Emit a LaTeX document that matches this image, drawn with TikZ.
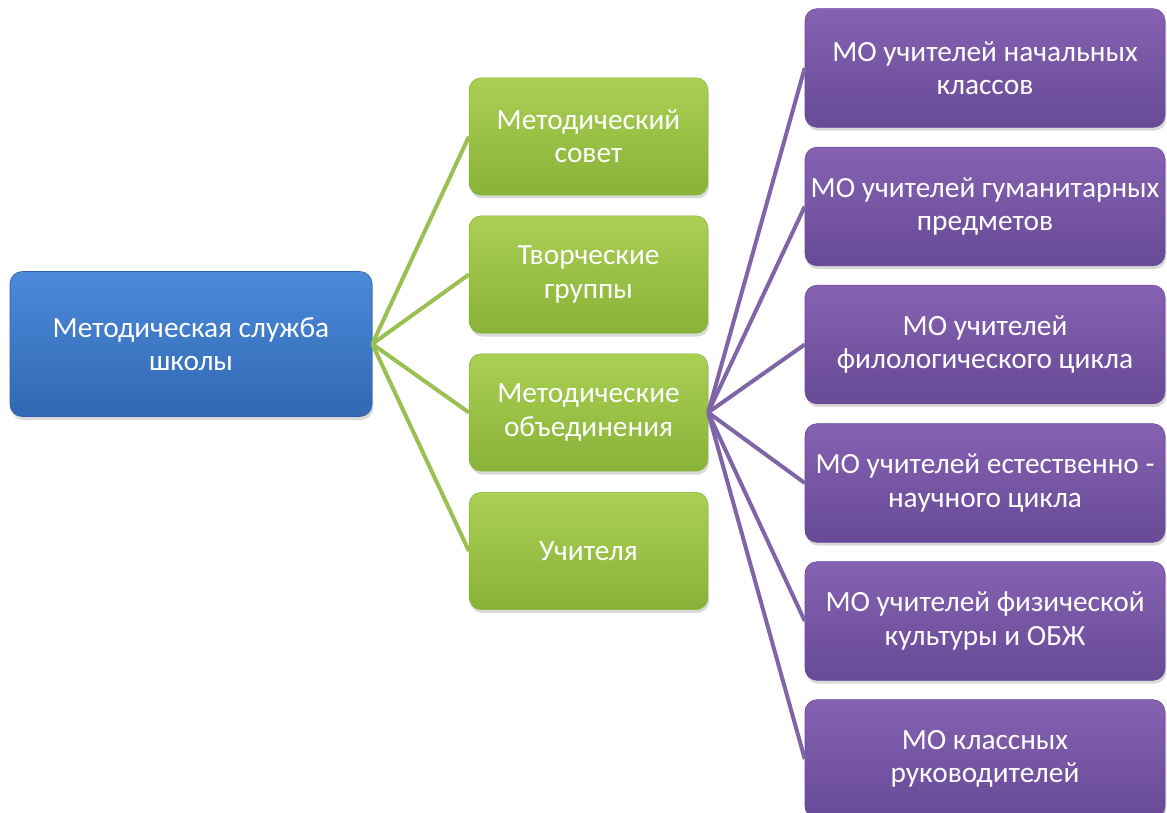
\documentclass[tikz,border=0pt]{standalone}
\usepackage{fontspec}
\setmainfont{Carlito}
\usepackage{tikz}
\usetikzlibrary{shadows}
\usepackage{xcolor}
\definecolor{msbluetop}{RGB}{74,138,216}
\definecolor{msbluebot}{RGB}{50,104,180}
\definecolor{msblueline}{RGB}{48,96,165}
\definecolor{msgreentop}{RGB}{170,208,84}
\definecolor{msgreenbot}{RGB}{136,178,56}
\definecolor{msgreenline}{RGB}{155,192,82}
\definecolor{mspurpletop}{RGB}{133,98,178}
\definecolor{mspurplebot}{RGB}{104,74,150}
\definecolor{mspurpleline}{RGB}{128,100,168}
\tikzstyle{link} = [line width=3pt]
\tikzstyle{schoolbox} = [rectangle, rounded corners=9pt, minimum width=271.5pt, minimum height=108.75pt, align=center, text=white, top color=msbluetop, bottom color=msbluebot, draw=msblueline, font=\fontsize{22}{25}\selectfont, drop shadow={opacity=0.3, shadow xshift=1pt, shadow yshift=-2.5pt}]
\tikzstyle{unitbox} = [rectangle, rounded corners=9pt, minimum width=179pt, minimum height=88pt, align=center, text=white, top color=msgreentop, bottom color=msgreenbot, draw=msgreenbot, font=\fontsize{22}{25}\selectfont, drop shadow={opacity=0.3, shadow xshift=1pt, shadow yshift=-2.5pt}]
\tikzstyle{mobox} = [rectangle, rounded corners=9pt, minimum width=270pt, minimum height=89pt, align=center, text=white, top color=mspurpletop, bottom color=mspurplebot, draw=mspurplebot, font=\fontsize{22}{25}\selectfont, drop shadow={opacity=0.3, shadow xshift=1pt, shadow yshift=-2.5pt}]

\begin{document}
\begin{tikzpicture}[x=0.75pt, y=-0.75pt]
\clip (0,0) rectangle (1167,813);

% Root
\node[schoolbox] (school) at (191,344) {Методическая служба\\школы};

% Level 1
\node[unitbox] (council) at (588.5,136.5) {Методический\\совет};
\node[unitbox] (groups) at (588.5,274.5) {Творческие\\группы};
\node[unitbox] (unions) at (588.5,412.5) {Методические\\объединения};
\node[unitbox] (teachers) at (588.5,551) {Учителя};

% Level 2
\node[mobox] (mo1) at (985,68) {МО учителей начальных\\классов};
\node[mobox] (mo2) at (985,206.5) {МО учителей гуманитарных\\предметов};
\node[mobox] (mo3) at (985,344.5) {МО учителей\\филологического цикла};
\node[mobox] (mo4) at (985,483) {МО учителей естественно -\\научного цикла};
\node[mobox] (mo5) at (985,621) {МО учителей физической\\культуры и ОБЖ};
\node[mobox] (mo6) at (985,759) {МО классных\\руководителей};

% Connections
\foreach \n in {council,groups,unions,teachers}
  \draw[link, msgreenline] (school.east) -- (\n.west);
\foreach \n in {mo1,mo2,mo3,mo4,mo5,mo6}
  \draw[link, mspurpleline] (unions.east) -- (\n.west);
\end{tikzpicture}
\end{document}
